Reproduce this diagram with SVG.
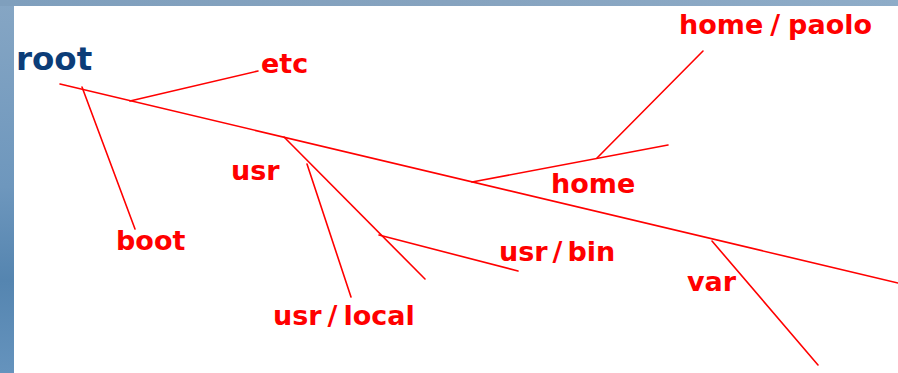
<svg xmlns="http://www.w3.org/2000/svg" width="898" height="373" viewBox="0 0 898 373">
  <defs>
    <linearGradient id="frameTop" x1="0" y1="0" x2="1" y2="0">
      <stop offset="0" stop-color="#7f9fbd"/>
      <stop offset="0.5" stop-color="#86a3bf"/>
      <stop offset="1" stop-color="#8eacc8"/>
    </linearGradient>
    <linearGradient id="frameLeft" x1="0" y1="0" x2="0" y2="1">
      <stop offset="0" stop-color="#86a6c4"/>
      <stop offset="0.5" stop-color="#6e97bd"/>
      <stop offset="0.75" stop-color="#5585b0"/>
      <stop offset="1" stop-color="#6593bd"/>
    </linearGradient>
  </defs>
  <style>
    .lbl { font-family: "DejaVu Sans", Verdana, sans-serif; font-weight: bold; font-size: 27px; fill: #ff0000; }
    .root { fill: #0c3d78; font-size: 32.5px; }
    .edge { stroke: #ff0000; stroke-width: 1.6; fill: none; stroke-linecap: round; }
  </style>

  <!-- page frame -->
  <rect x="0" y="0" width="898" height="373" fill="url(#frameLeft)"/>
  <rect x="0" y="0" width="898" height="6" fill="url(#frameTop)"/>
  <rect x="14" y="6" width="884" height="367" fill="#ffffff"/>

  <!-- directory tree branches -->
  <g id="connectors">
    <line class="edge" x1="60" y1="84" x2="898" y2="283"/>
    <line class="edge" x1="130" y1="101" x2="258" y2="71"/>
    <line class="edge" x1="82" y1="87" x2="135" y2="229"/>
    <line class="edge" x1="284" y1="137" x2="425" y2="279"/>
    <line class="edge" x1="307" y1="164" x2="351" y2="297"/>
    <line class="edge" x1="379" y1="235" x2="518" y2="271"/>
    <line class="edge" x1="472" y1="182" x2="668" y2="145"/>
    <line class="edge" x1="597" y1="158" x2="703" y2="51"/>
    <line class="edge" x1="712" y1="241" x2="818" y2="365"/>
  </g>

  <!-- directory labels (slashes get extra room, Verdana-style) -->
  <g id="root"><text class="lbl root" x="16" y="70">root</text></g>
  <g id="etc"><text class="lbl" x="261" y="73">etc</text></g>
  <g id="boot"><text class="lbl" x="116" y="250">boot</text></g>
  <g id="usr"><text class="lbl" x="231" y="180">usr</text></g>
  <g id="usr-local"><text class="lbl" x="273" y="325">usr<tspan dx="6">/</tspan><tspan dx="6">local</tspan></text></g>
  <g id="usr-bin"><text class="lbl" x="499" y="261">usr<tspan dx="5">/</tspan><tspan dx="5">bin</tspan></text></g>
  <g id="home"><text class="lbl" x="551" y="193">home</text></g>
  <g id="home-paolo"><text class="lbl" x="679" y="34">home<tspan dx="7">/</tspan><tspan dx="8">paolo</tspan></text></g>
  <g id="var"><text class="lbl" x="687" y="291">var</text></g>
</svg>
